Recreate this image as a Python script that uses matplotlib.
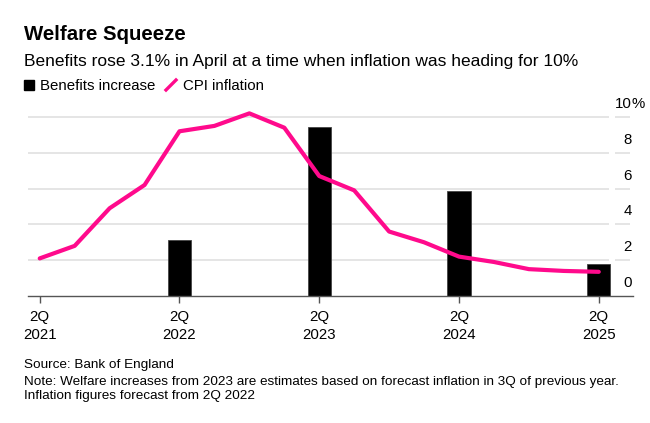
import numpy as np
import matplotlib
matplotlib.use("Agg")
import matplotlib.pyplot as plt
import matplotlib.transforms as mtransforms
from matplotlib.lines import Line2D
from matplotlib.patches import Rectangle

plt.rcParams['font.family'] = ['Liberation Sans', 'DejaVu Sans']

# quarterly, 2Q 2021 .. 2Q 2025
quarters = ['2Q21', '3Q21', '4Q21', '1Q22', '2Q22', '3Q22', '4Q22', '1Q23', '2Q23',
            '3Q23', '4Q23', '1Q24', '2Q24', '3Q24', '4Q24', '1Q25', '2Q25']
cpi = [2.1, 2.8, 4.9, 6.2, 9.2, 9.5, 10.2, 9.4, 6.7, 5.9, 3.6, 3.0, 2.2, 1.9, 1.5, 1.4, 1.35]
benefit_quarters = ['2Q22', '2Q23', '2Q24', '2Q25']
benefits = [3.1, 9.45, 5.85, 1.8]
tick_labels = ['2Q\n2021', '2Q\n2022', '2Q\n2023', '2Q\n2024', '2Q\n2025']
y_ticks = [0, 2, 4, 6, 8, 10]

pink = '#ff0a8c'
grid_c = '#e0e0e0'
axis_c = '#555555'

W, H = 650, 423
fig = plt.figure(figsize=(6.5, 4.23), dpi=100)
ax = fig.add_axes([27.5 / W, 1 - 296 / H, 605.5 / W, 188 / H])

x = np.arange(len(quarters))
bx = [quarters.index(q) for q in benefit_quarters]

ax.set_xlim(-0.35, 16.98)
ax.set_ylim(0, 10.5)

for v in y_ticks[1:]:
    ax.hlines(v, -0.35, 16.3, color=grid_c, lw=1.2, zorder=0)
    ax.hlines(v, 16.47, 16.9, color=grid_c, lw=1.2, zorder=0)

ax.bar(bx, benefits, width=0.66, color='black', edgecolor='#444444', lw=0.6, zorder=2)
ax.plot(x, cpi, color=pink, lw=3.0, solid_joinstyle='round', solid_capstyle='round', zorder=3)

for s in ['top', 'right', 'left']:
    ax.spines[s].set_visible(False)
ax.spines['bottom'].set_color(axis_c)
ax.spines['bottom'].set_linewidth(1.0)

ax.set_xticks([0, 4, 8, 12, 16])
ax.set_xticklabels(tick_labels, fontsize=10.8, linespacing=1.4)
ax.tick_params(axis='x', length=5, color=axis_c, width=1, pad=5)
ax.set_yticks([])

# y labels on the right, sitting above the gridlines
off = mtransforms.offset_copy(ax.get_yaxis_transform(), fig=fig, x=-1, y=9, units='dots')
for v in y_ticks:
    ax.text(1.0, v, str(v), transform=off, ha='right', va='baseline', fontsize=10.8)
off_pct = mtransforms.offset_copy(ax.get_yaxis_transform(), fig=fig, x=-1.5, y=9, units='dots')
ax.text(1.0, 10, '%', transform=off_pct, ha='left', va='baseline', fontsize=10.8)

fig.text(24 / W, 1 - 40 / H, 'Welfare Squeeze', fontsize=14.7, fontweight='bold', va='baseline')
fig.text(24 / W, 1 - 66 / H, 'Benefits rose 3.1% in April at a time when inflation was heading for 10%',
         fontsize=12.5, va='baseline')

# legend, drawn by hand
fig.patches.append(Rectangle((24 / W, 1 - 90 / H), 10 / W, 10 / H,
                             transform=fig.transFigure, color='black'))
fig.text(40 / W, 1 - 90.5 / H, 'Benefits increase', fontsize=10.8, va='baseline')
fig.lines.append(Line2D([166 / W, 176 / W], [1 - 90 / H, 1 - 80 / H],
                        transform=fig.transFigure, color=pink, lw=2.4))
fig.text(183 / W, 1 - 90.5 / H, 'CPI inflation', fontsize=10.8, va='baseline')

fig.text(24 / W, 1 - 368.3 / H, 'Source: Bank of England', fontsize=9.7, va='baseline')
fig.text(24 / W, 1 - 384.5 / H, 'Note: Welfare increases from 2023 are estimates based on forecast inflation in 3Q of previous year.',
         fontsize=9.7, va='baseline')
fig.text(24 / W, 1 - 398.5 / H, 'Inflation figures forecast from 2Q 2022', fontsize=9.7, va='baseline')

fig.savefig('out.png', dpi=100)
